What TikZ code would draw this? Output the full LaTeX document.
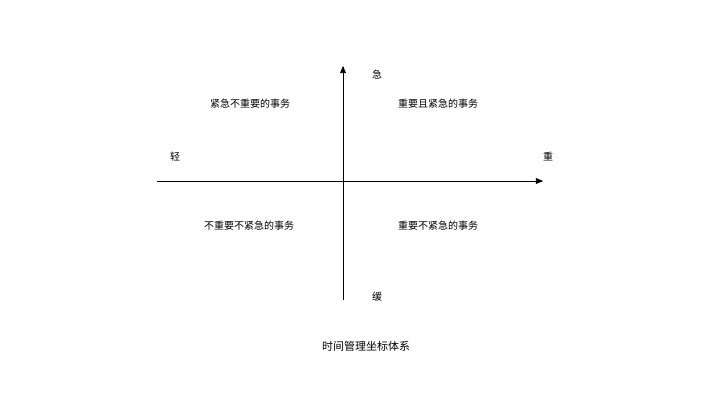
\documentclass[tikz,border=0pt]{standalone}
\usepackage{fontspec}
\setmainfont{Noto Sans CJK SC}
\usetikzlibrary{arrows,positioning}
\begin{document}
\begin{tikzpicture}
[x=1pt, y=-1pt, >=triangle 45, semithick,
every node/.style={font=\fontsize{10}{12}\selectfont, inner sep=1pt},
caption/.style={font=\fontsize{11}{13}\selectfont}
]
  \useasboundingbox (0,0) rectangle (705,403);
  \coordinate (left)   at (157,181);
  \coordinate (right)  at (543,181);
  \coordinate (bottom) at (343,300);
  \coordinate (top)    at (343,66);

  \node (ji)    at (377,75)  {急};
  \node (huan)  at (377,297) {缓};
  \node (qing)  at (175,157) {轻};
  \node (zhong) at (548,157) {重};

  \node (q2) at (250,104) {紧急不重要的事务};
  \node (q1) at (438,104) {重要且紧急的事务};
  \node (q3) at (249,226) {不重要不紧急的事务};
  \node (q4) at (438,226) {重要不紧急的事务};

  \node[caption] (title) at (366,346) {时间管理坐标体系};

  \draw[->] (left) -- (right);
  \draw[->] (bottom) -- (top);
\end{tikzpicture}
\end{document}
